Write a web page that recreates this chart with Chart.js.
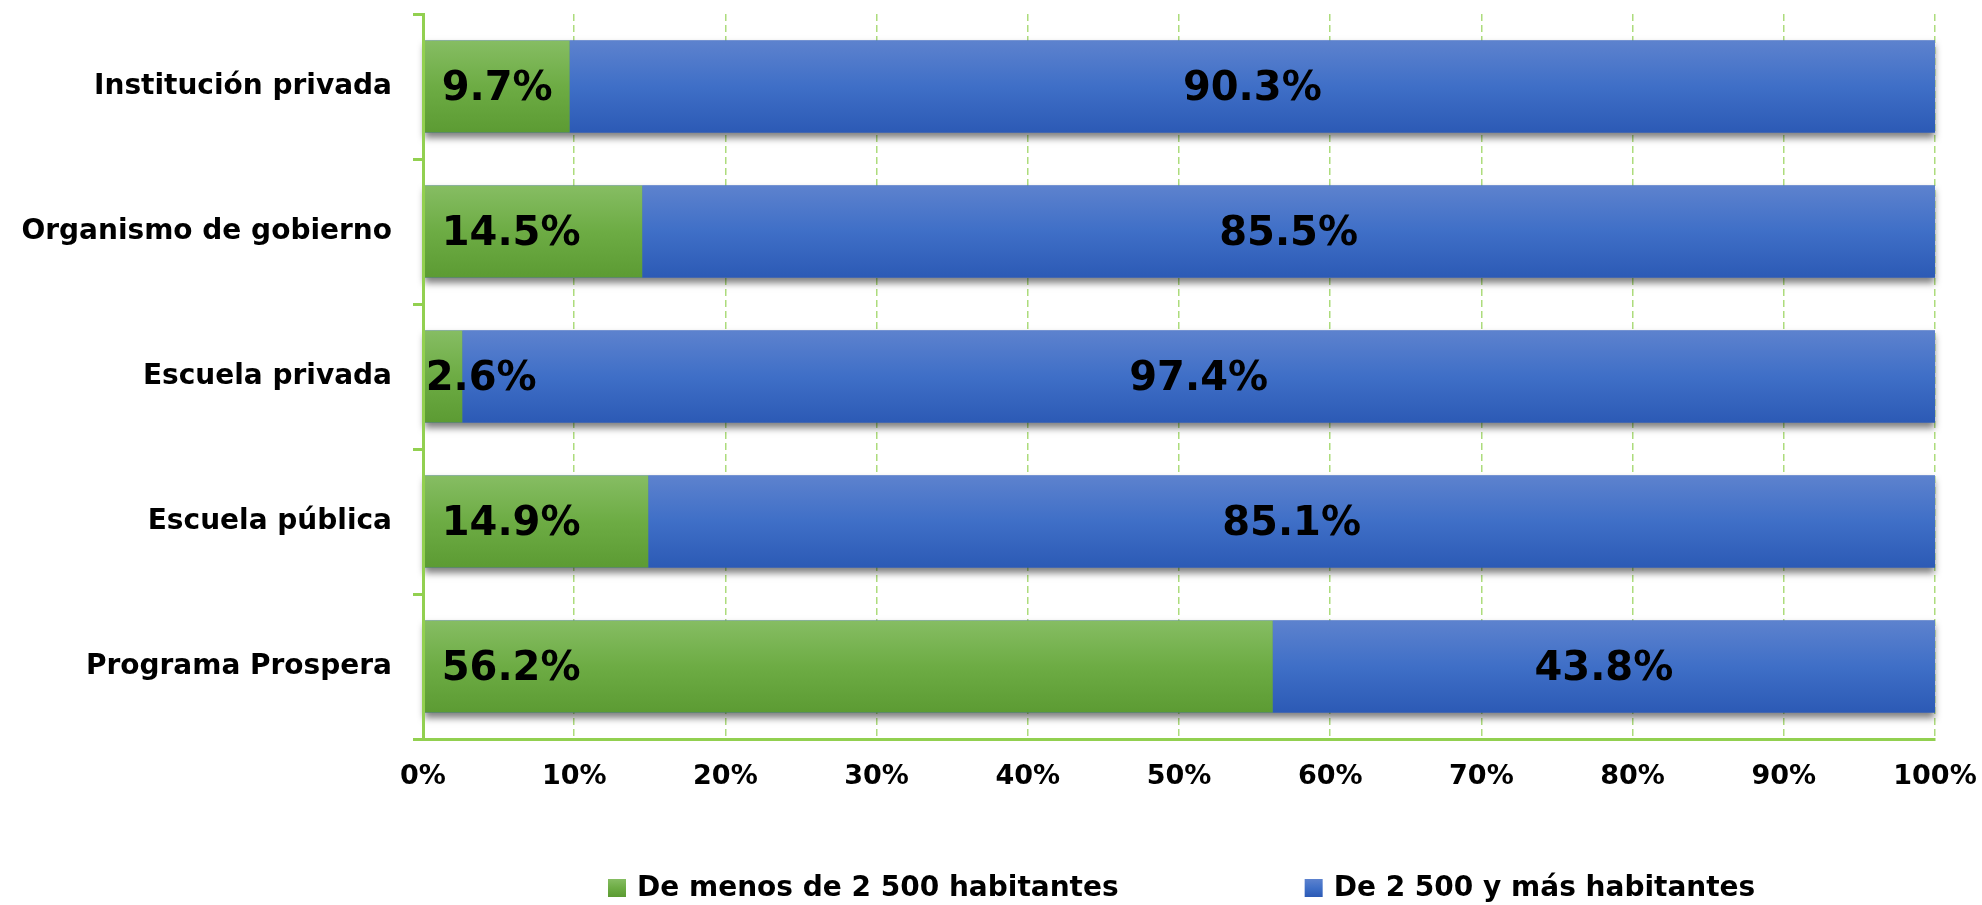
<!DOCTYPE html>
<html>
<head>
<meta charset="utf-8">
<script src="https://cdn.jsdelivr.net/npm/chart.js@4/dist/chart.umd.min.js"></script>
<style>
  html, body { margin: 0; padding: 0; background: #fff; }
  #wrap { width: 1982px; height: 905px; position: relative; }
</style>
</head>
<body>
<div id="wrap"><canvas id="barChart"></canvas></div>
<script>
// data
var categories = ["Institución privada", "Organismo de gobierno", "Escuela privada", "Escuela pública", "Programa Prospera"];
var seriesNames = ["De menos de 2 500 habitantes", "De 2 500 y más habitantes"];
var menos = [9.7, 14.5, 2.6, 14.9, 56.2];
var mas = [90.3, 85.5, 97.4, 85.1, 43.8];

var FONT = "'DejaVu Sans', Verdana, sans-serif";
var AXIS_GREEN = "#92d050";
var BAR_PCT = 0.635;
var greenStops = ["#86bd63", "#6dac44", "#5c9b33"];
var blueStops = ["#5d82ce", "#3f6fc7", "#2c5ab5"];

function makeGradient(ctx, top, bottom, stops) {
  var g = ctx.createLinearGradient(0, top, 0, bottom);
  g.addColorStop(0, stops[0]);
  g.addColorStop(0.5, stops[1]);
  g.addColorStop(1, stops[2]);
  return g;
}

// vertical gradient per bar, computed from the category scale
function barFill(stops) {
  return function (c) {
    var chart = c.chart;
    var y = chart.scales.y;
    if (c.dataIndex === undefined || !y || !y.height) return stops[1];
    var cy = y.getPixelForValue(c.dataIndex);
    var h = (y.height / categories.length) * BAR_PCT / 2;
    return makeGradient(chart.ctx, cy - h, cy + h, stops);
  };
}

// drop shadow under each stacked row
var barShadow = {
  id: "barShadow",
  beforeDatasetsDraw: function (chart) {
    var ctx = chart.ctx;
    var first = chart.getDatasetMeta(0).data;
    var last = chart.getDatasetMeta(chart.data.datasets.length - 1).data;
    ctx.save();
    ctx.shadowColor = "rgba(0,0,0,0.5)";
    ctx.shadowBlur = 7;
    ctx.shadowOffsetY = 5;
    ctx.fillStyle = "#3a64bd";
    first.forEach(function (el, i) {
      var h = el.height / 2;
      ctx.fillRect(el.base, el.y - h, last[i].x - el.base, el.height);
    });
    ctx.restore();
  }
};

// value labels: green at the base, blue centred
var valueLabels = {
  id: "valueLabels",
  afterDatasetsDraw: function (chart) {
    var ctx = chart.ctx;
    ctx.save();
    ctx.font = "bold 40px " + FONT;
    ctx.fillStyle = "#000";
    ctx.textBaseline = "middle";
    ctx.textAlign = "left";
    chart.data.datasets.forEach(function (ds, di) {
      chart.getDatasetMeta(di).data.forEach(function (el, i) {
        var txt = ds.data[i].toFixed(1) + "%";
        var w = ctx.measureText(txt).width;
        var left = Math.min(el.base, el.x);
        var width = Math.abs(el.x - el.base);
        var tx;
        if (di === 0) {
          tx = (w + 18 <= width) ? left + 18 : left + 2;
        } else {
          tx = left + (width - w) / 2;
        }
        ctx.fillText(txt, tx, el.y + 3);
      });
    });
    ctx.restore();
  }
};

// legend at the bottom
var bottomLegend = {
  id: "bottomLegend",
  afterDraw: function (chart) {
    var ctx = chart.ctx;
    ctx.save();
    ctx.font = "bold 28px " + FONT;
    ctx.textBaseline = "middle";
    var x = 608, y = 888, box = 18;
    seriesNames.forEach(function (name, i) {
      var stops = i === 0 ? greenStops : blueStops;
      ctx.fillStyle = makeGradient(ctx, y - box / 2, y + box / 2, stops);
      ctx.fillRect(x, y - box / 2, box, box);
      ctx.fillStyle = "#000";
      ctx.fillText(name, x + box + 11, y + 1);
      x += box + 11 + ctx.measureText(name).width + 186;
    });
    ctx.restore();
  }
};

var ctx = document.getElementById("barChart").getContext("2d");
var barChart = new Chart(ctx, {
  type: "bar",
  data: {
    labels: categories,
    datasets: [
      { label: seriesNames[0], data: menos, backgroundColor: barFill(greenStops), borderWidth: 0, categoryPercentage: 1, barPercentage: BAR_PCT },
      { label: seriesNames[1], data: mas, backgroundColor: barFill(blueStops), borderWidth: 0, categoryPercentage: 1, barPercentage: BAR_PCT }
    ]
  },
  options: {
    indexAxis: "y",
    responsive: true,
    maintainAspectRatio: false,
    animation: false,
    layout: { padding: { top: 14, right: 47, left: 0, bottom: 0 } },
    plugins: {
      legend: { display: false },
      tooltip: { enabled: false }
    },
    scales: {
      x: {
        stacked: true,
        min: 0,
        max: 100,
        afterFit: function (scale) {
          scale.height = 166;
          scale.paddingLeft = 0;
          scale.paddingRight = 0;
        },
        ticks: {
          stepSize: 10,
          padding: 22,
          color: "#000",
          font: { family: FONT, size: 27, weight: "bold" },
          callback: function (v) { return v + "%"; }
        },
        grid: {
          color: "rgba(146,208,80,0.75)",
          lineWidth: 1.5,
          drawTicks: false
        },
        border: { color: AXIS_GREEN, width: 3, dash: [7, 4] }
      },
      y: {
        stacked: true,
        afterFit: function (scale) {
          scale.width = 423;
          scale.paddingTop = 0;
          scale.paddingBottom = 0;
        },
        ticks: {
          padding: 21,
          color: "#000",
          font: { family: FONT, size: 28, weight: "bold" }
        },
        grid: {
          offset: true,
          drawOnChartArea: false,
          tickLength: 10,
          tickWidth: 3,
          tickColor: AXIS_GREEN
        },
        border: { color: AXIS_GREEN, width: 3, z: 1 }
      }
    }
  },
  plugins: [barShadow, valueLabels, bottomLegend]
});
</script>
</body>
</html>
